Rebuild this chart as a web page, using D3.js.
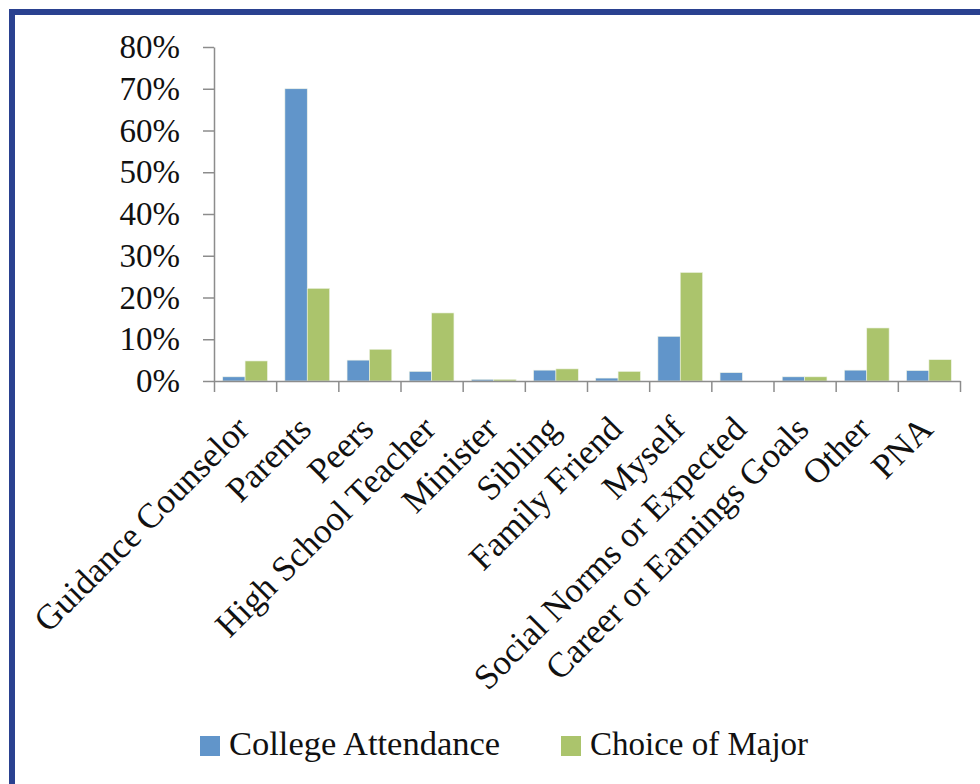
<!DOCTYPE html>
<html>
<head>
<meta charset="utf-8">
<script src="https://cdn.jsdelivr.net/npm/d3@7"></script>
<style>
  body { margin: 0; background: #fff; }
  svg { display: block; }
  text { font-family: "Liberation Serif", "Times New Roman", serif; fill: #111; }
</style>
</head>
<body>
<div id="chart"></div>
<script>
const categories = ["Guidance Counselor", "Parents", "Peers", "High School Teacher", "Minister", "Sibling",
    "Family Friend", "Myself", "Social Norms or Expected", "Career or Earnings Goals", "Other", "PNA"];
const collegeAttendance = [1.0, 70.0, 5.0, 2.3, 0.4, 2.6, 0.7, 10.7, 2.0, 1.0, 2.6, 2.5];
const choiceOfMajor = [4.8, 22.2, 7.6, 16.3, 0.4, 2.9, 2.3, 26.0, 0, 1.0, 12.7, 5.1];
const yTicks = [0, 10, 20, 30, 40, 50, 60, 70, 80];
const seriesNames = ["College Attendance", "Choice of Major"];

const width = 980;
const height = 784;
const margin = { top: 47, left: 214, bottom: 403, right: 20 };
const iwidth = 960 - margin.left;
const iheight = 381 - margin.top;
const colors = ["#6195ca", "#abc46c"];
const axisColor = "#8c8c8c";

const svg = d3.select("#chart").append("svg")
    .attr("width", width)
    .attr("height", height);

// frame
svg.append("rect")
    .attr("x", 12).attr("y", 12)
    .attr("width", 1100).attr("height", 1100)
    .attr("fill", "none")
    .attr("stroke", "#2a4190")
    .attr("stroke-width", 6);

const g = svg.append("g").attr("transform", `translate(${margin.left},${margin.top})`);

const x = d3.scaleBand()
    .domain(categories)
    .range([0, iwidth])
    .paddingInner(0)
    .paddingOuter(0);

const xEdge = d3.scaleLinear().domain([0, categories.length]).range([0, iwidth]);

const x1 = d3.scaleBand()
    .domain(seriesNames)
    .range([0, x.bandwidth()])
    .paddingOuter(0.39)
    .paddingInner(0);

const y = d3.scaleLinear()
    .domain([0, 80])
    .range([iheight, 0]);

const rows = categories.map((c, i) => ({
    name: c,
    values: [collegeAttendance[i], choiceOfMajor[i]]
}));

const groups = g.selectAll("g.cat").data(rows).enter().append("g")
    .attr("class", "cat")
    .attr("transform", d => `translate(${x(d.name)},0)`);

groups.selectAll("rect")
    .data(d => d.values.map((v, j) => ({ key: seriesNames[j], value: v, j: j })))
    .enter().append("rect")
    .attr("x", d => x1(d.key))
    .attr("y", d => y(d.value))
    .attr("width", x1.bandwidth())
    .attr("height", d => iheight - y(d.value))
    .attr("fill", d => colors[d.j])
    .attr("stroke", "#eef3e6")
    .attr("stroke-width", 0.6);

// y axis
const yAxis = g.append("g")
    .call(d3.axisLeft(y).tickValues(yTicks).tickSize(11).tickSizeOuter(0).tickPadding(23)
        .tickFormat(d => d + "%"));
yAxis.selectAll("path, line").attr("stroke", axisColor).attr("stroke-width", 1.5);
yAxis.selectAll("text").style("font-size", "33px").attr("fill", "#111");

// x axis, ticks sit on the category edges
const xAxis = g.append("g")
    .attr("transform", `translate(0,${iheight})`)
    .call(d3.axisBottom(xEdge).ticks(categories.length).tickSize(11).tickSizeOuter(0).tickFormat(""));
xAxis.selectAll("path, line").attr("stroke", axisColor).attr("stroke-width", 1.5);

g.selectAll("text.cat-label").data(categories).enter().append("text")
    .attr("class", "cat-label")
    .attr("transform", d => `translate(${x(d) + x.bandwidth() / 2 + 6},${iheight + 50}) rotate(-45)`)
    .attr("text-anchor", "end")
    .style("font-size", "35px")
    .text(d => d);

// legend
const legend = svg.append("g").attr("transform", "translate(0,736)");
const legendX = [200, 561];
const legendSize = ["34.5px", "33px"];
seriesNames.forEach((s, i) => {
    legend.append("rect")
        .attr("x", legendX[i]).attr("y", 0)
        .attr("width", 20).attr("height", 20)
        .attr("fill", colors[i]);
    legend.append("text")
        .attr("x", legendX[i] + 29).attr("y", 19)
        .style("font-size", legendSize[i])
        .text(s);
});
</script>
</body>
</html>
